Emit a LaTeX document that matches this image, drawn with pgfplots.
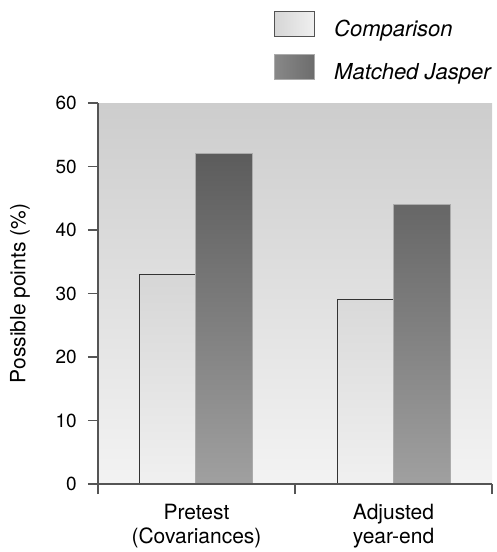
\documentclass[border=0pt]{standalone}
\usepackage{pgfplots}
\pgfplotsset{compat=1.18}
\usepackage{fontspec}
\setmainfont{TeX Gyre Heros}
\definecolor{axisgray}{HTML}{555555}
\definecolor{bgtop}{HTML}{CDCDCD}
\definecolor{bgbot}{HTML}{F3F3F3}
\definecolor{comptop}{HTML}{D6D6D6}
\definecolor{compbot}{HTML}{F0F0F0}
\definecolor{compedge}{HTML}{333333}
\definecolor{mjtop}{HTML}{5C5C5C}
\definecolor{mjbot}{HTML}{A0A0A0}
\definecolor{mjedge}{HTML}{ABABAB}
\begin{document}
\begin{tikzpicture}
\useasboundingbox (0,0) rectangle (496pt,552pt);
\begin{axis}[
  at={(98pt,68pt)}, anchor=south west,
  scale only axis, width=394pt, height=381pt,
  xmin=0, xmax=2, ymin=0, ymax=60,
  axis x line*=bottom, axis y line*=left,
  axis line style={draw=axisgray, line width=1.3pt},
  axis background/.style={top color=bgtop, bottom color=bgbot},
  axis on top,
  tick align=outside,
  major tick length=10pt,
  tick style={draw=axisgray, line width=1.3pt},
  ytick={0,10,...,60},
  xtick={0,1,2},
  xticklabels={},
  extra x ticks={0.5,1.5},
  extra x tick labels={{Pretest\\(Covariances)},{Adjusted\\year-end}},
  extra x tick style={major tick length=0pt, tick label style={align=center, yshift=-17pt, font=\fontsize{21}{24}\selectfont}},
  tick label style={font=\fontsize{19}{23}\selectfont},
  /pgf/number format/assume math mode=true,
  yticklabel style={inner sep=0pt, xshift=-11pt},
  ylabel={Possible points (\%)},
  every axis y label/.style={at={(axis description cs:-0.198,0.5)}, rotate=90, anchor=center, font=\fontsize{21}{24}\selectfont},
  legend cell align=left,
  legend style={at={(axis description cs:0.4467,1.2415)}, anchor=north west, draw=none, fill=none,
    inner sep=0pt, outer sep=0pt, row sep=16.7pt, column sep=19pt,
    font=\itshape\fontsize{22}{26}\selectfont, nodes={inner sep=0pt}},
]
\addplot[ybar, bar width=0.287, bar shift=0pt, draw=compedge, line width=1.2pt,
  top color=comptop, bottom color=compbot,
  legend image code/.code={\draw[draw=compedge!85, line width=1.2pt, left color=comptop, right color=compbot] (0pt,-8pt) rectangle (40pt,17pt);}]
  coordinates {(0.353,33) (1.358,29)};
\addlegendentry{Comparison}
\addplot[ybar, bar width=0.287, bar shift=0pt, draw=mjedge, line width=1.2pt,
  top color=mjtop, bottom color=mjbot,
  legend image code/.code={\draw[draw=mjedge, line width=1.2pt, left color=mjbot!85!black, right color=mjtop!90] (0pt,-8pt) rectangle (40pt,17pt);}]
  coordinates {(0.640,52) (1.645,44)};
\addlegendentry{Matched Jasper}
\end{axis}
\end{tikzpicture}
\end{document}
